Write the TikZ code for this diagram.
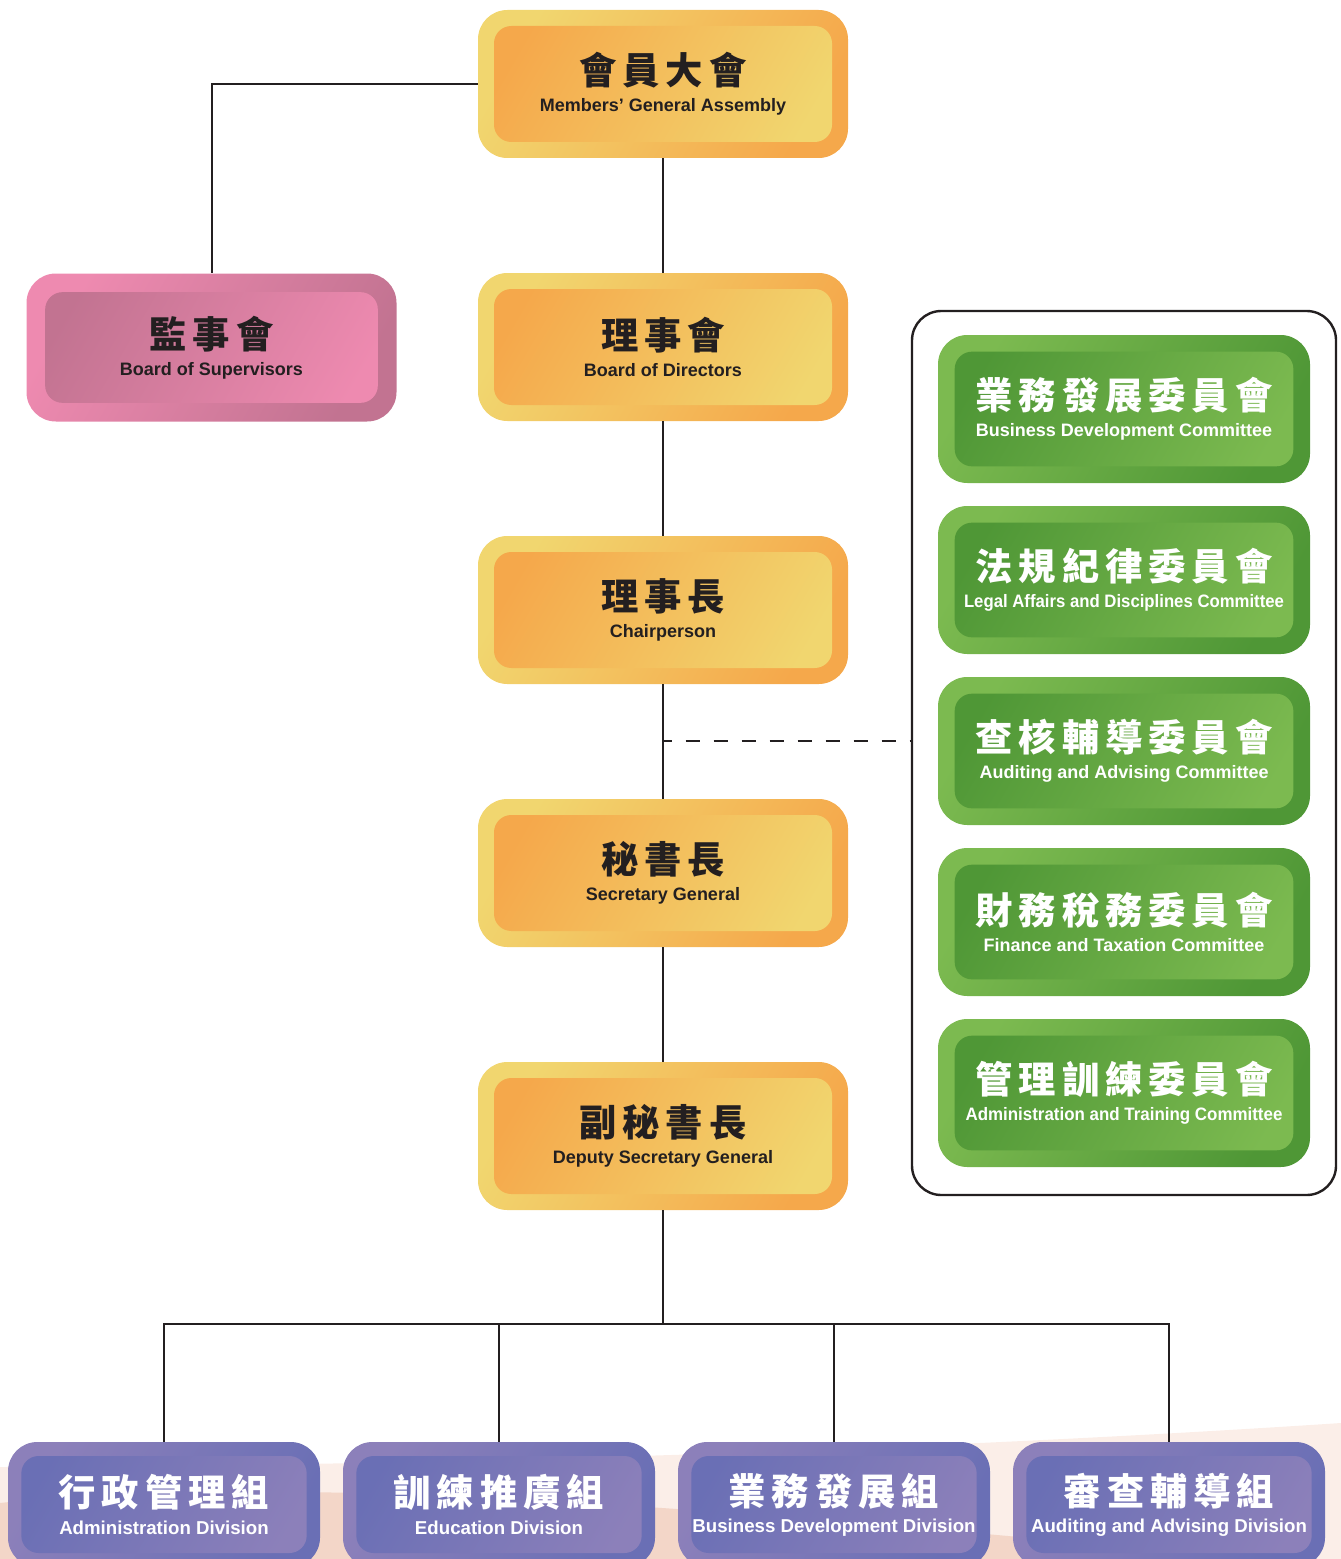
\documentclass[tikz,border=0pt]{standalone}
\usepackage{fontspec}
\setmainfont{Liberation Sans}
\newfontfamily\cjk{Noto Sans CJK TC}[LetterSpace=16]

\definecolor{ink}{HTML}{231F20}
\definecolor{oyel}{HTML}{F1D66F}
\definecolor{oora}{HTML}{F5A84B}
\definecolor{plight}{HTML}{EE8AB0}
\definecolor{pdark}{HTML}{C27391}
\definecolor{glight}{HTML}{7CBA50}
\definecolor{gdark}{HTML}{4F9736}
\definecolor{ulight}{HTML}{8C80BA}
\definecolor{udark}{HTML}{6A6FB5}
\definecolor{peachlt}{HTML}{FBEEE8}
\definecolor{peachdk}{HTML}{F3D6C8}

\newcommand\zh[1]{{\cjk\fontsize{28}{20.5}\selectfont #1}}
\newcommand\squeeze[2]{\scalebox{#1}[1]{#2}}

\tikzset{
  orgbox/.style={rounded corners=22pt, inner sep=0pt, align=center,
    minimum width=277.5pt, minimum height=111pt,
    font=\bfseries\fontsize{13.5}{20.5}\selectfont},
  inset/.style={rounded corners=13pt},
  goldbox/.style={orgbox, left color=oyel, right color=oora, shading angle=60, text=ink,
    path picture={\shade[inset, left color=oora, right color=oyel, shading angle=60]
      ([shift={(12pt,-12pt)}]path picture bounding box.north west) rectangle
      ([shift={(-12pt,12pt)}]path picture bounding box.south east);}},
  pinkbox/.style={orgbox, left color=plight, right color=pdark, shading angle=60, text=ink,
    path picture={\shade[inset, left color=pdark, right color=plight, shading angle=60]
      ([shift={(14pt,-14pt)}]path picture bounding box.north west) rectangle
      ([shift={(-14pt,14pt)}]path picture bounding box.south east);}},
  greenbox/.style={orgbox, minimum width=279pt, left color=glight, right color=gdark,
    shading angle=60, text=white,
    path picture={\shade[inset, left color=gdark, right color=glight, shading angle=60]
      ([shift={(12.5pt,-12.5pt)}]path picture bounding box.north west) rectangle
      ([shift={(-12.5pt,12.5pt)}]path picture bounding box.south east);}},
  divbox/.style={orgbox, minimum width=234pt, minimum height=93.75pt,
    font=\bfseries\fontsize{14}{20.5}\selectfont,
    left color=ulight, right color=udark, shading angle=60, text=white,
    path picture={\shade[inset, left color=udark, right color=ulight, shading angle=60]
      ([shift={(10pt,-10.5pt)}]path picture bounding box.north west) rectangle
      ([shift={(-10pt,10.5pt)}]path picture bounding box.south east);}},
  link/.style={draw=ink, line width=1.5pt},
}

\begin{document}
\begin{tikzpicture}[x=0.75pt,y=-0.75pt]
\useasboundingbox (0,0) rectangle (1341,1559);
\clip (0,0) rectangle (1341,1559);

\fill[peachlt] (0,1467) .. controls (400,1466) and (900,1452) .. (1341,1423) -- (1341,1559) -- (0,1559) -- cycle;
\fill[peachdk] (0,1503) .. controls (300,1470) and (800,1515) .. (1250,1559) -- (0,1559) -- cycle;

\node[goldbox] (assembly) at (663,84) {\zh{會員大會}\\Members’ General Assembly};
\node[pinkbox] (supervisors) at (211.5,347.5) {\zh{監事會}\\Board of Supervisors};
\node[goldbox] (directors) at (663,347) {\zh{理事會}\\Board of Directors};
\node[goldbox] (chair) at (663,610) {\zh{理事長}\\Chairperson};
\node[goldbox] (secgen) at (663,873) {\zh{秘書長}\\Secretary General};
\node[goldbox] (deputy) at (663,1136) {\zh{副秘書長}\\Deputy Secretary General};

\node[draw=ink, line width=1.8pt, rounded corners=22pt, minimum width=318pt, minimum height=663pt] (committees) at (1124,753) {};
\node[greenbox] (busdev) at (1124,409) {\zh{業務發展委員會}\\Business Development Committee};
\node[greenbox] (legal) at (1124,580) {\zh{法規紀律委員會}\\\squeeze{0.93}{Legal Affairs and Disciplines Committee}};
\node[greenbox] (audit) at (1124,751) {\zh{查核輔導委員會}\\Auditing and Advising Committee};
\node[greenbox] (finance) at (1124,922) {\zh{財務稅務委員會}\\Finance and Taxation Committee};
\node[greenbox] (training) at (1124,1093) {\zh{管理訓練委員會}\\\squeeze{0.94}{Administration and Training Committee}};

\node[divbox] (admin) at (164,1504.5) {\zh{行政管理組}\\Administration Division};
\node[divbox] (educ) at (499,1504.5) {\zh{訓練推廣組}\\Education Division};
\node[divbox] (busdiv) at (834,1504.5) {\zh{業務發展組}\\Business Development Division};
\node[divbox] (auddiv) at (1169,1504.5) {\zh{審查輔導組}\\Auditing and Advising Division};

\draw[link] (assembly.west) -| (supervisors.north);
\draw[link] (assembly) -- (directors);
\draw[link] (directors) -- (chair);
\draw[link] (chair) -- (secgen);
\draw[link] (secgen) -- (deputy);

\coordinate (tap) at (663,741);
\draw[link, dash pattern=on 10.5pt off 10.5pt, dash phase=4pt] (tap) -- (tap -| committees.west);

\coordinate (split) at (663,1324);
\draw[link] (deputy) -- (split);
\draw[link] (admin.north) -- (admin.north |- split) -- (auddiv.north |- split) -- (auddiv.north);
\draw[link] (educ.north) -- (educ.north |- split);
\draw[link] (busdiv.north) -- (busdiv.north |- split);
\end{tikzpicture}
\end{document}
